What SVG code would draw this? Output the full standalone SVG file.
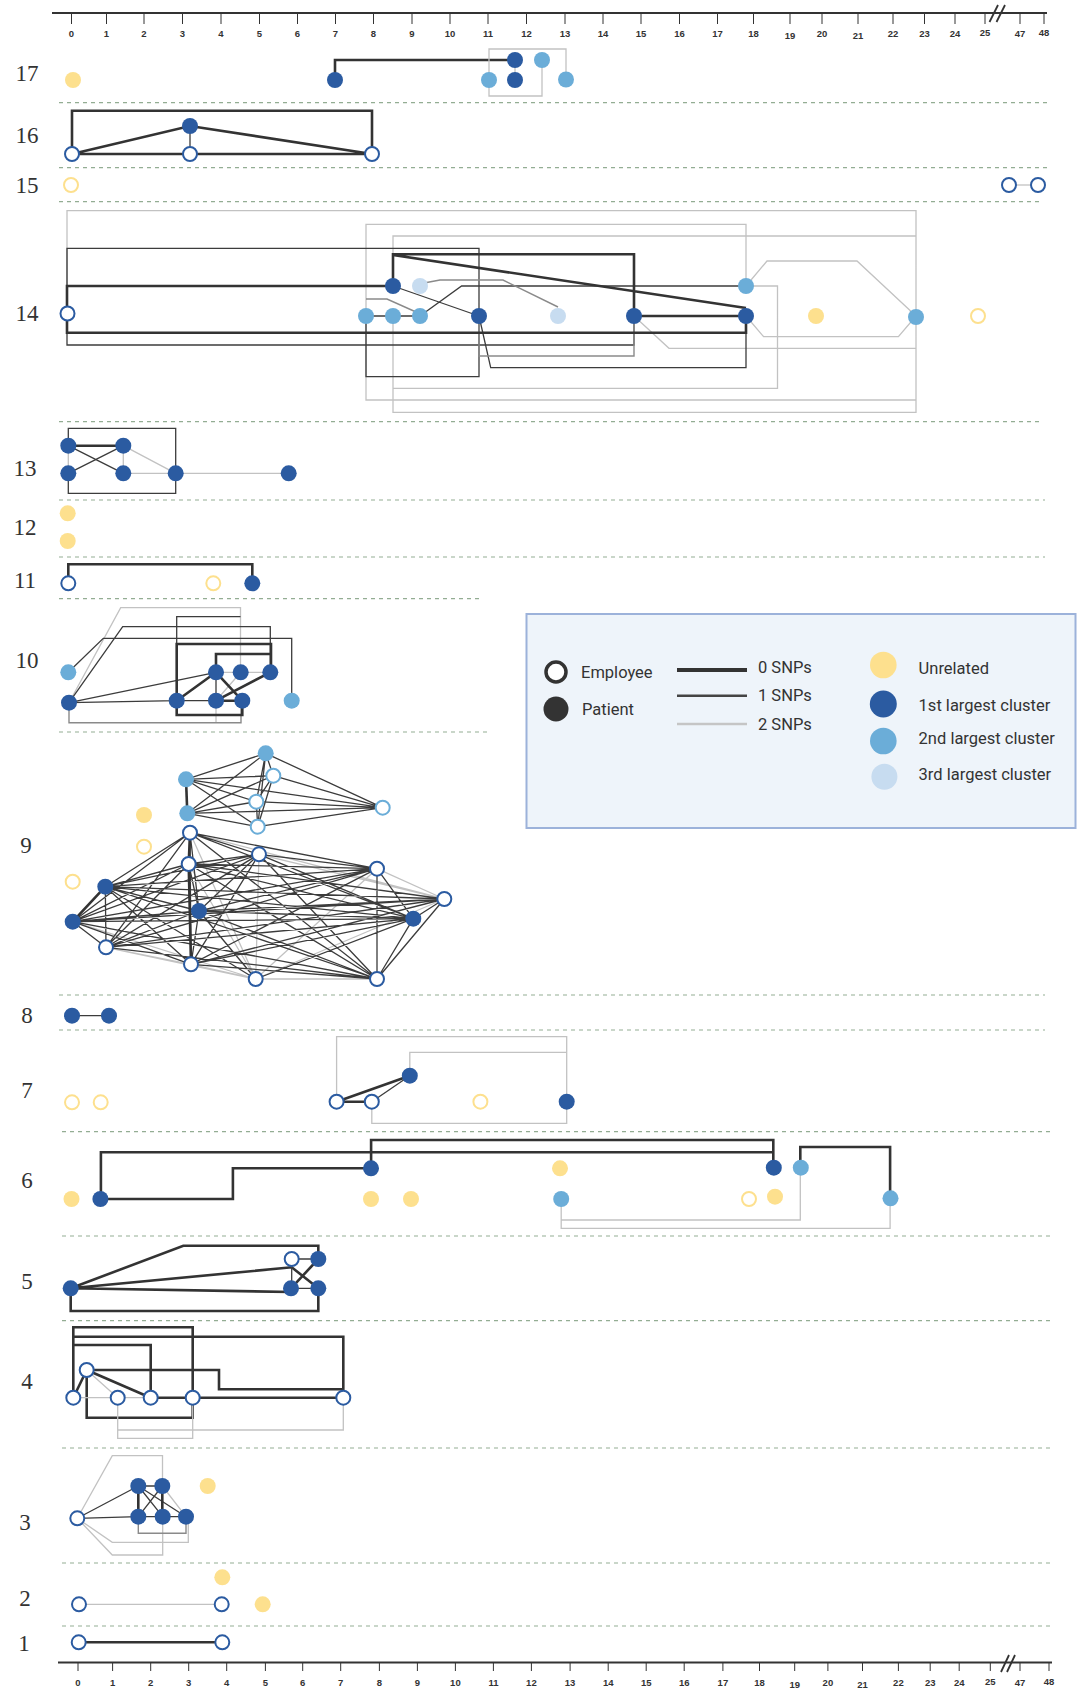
<svg xmlns="http://www.w3.org/2000/svg" width="1085" height="1689" viewBox="0 0 1085 1689">
<style>
.c1{fill:#2b5ba1}
.c2{fill:#6badd8}
.c3{fill:#c7dcf0}
.cu{fill:#fde08e}
.ee{fill:#fff;stroke:#2b5ba1;stroke-width:2}
.el{fill:#fff;stroke:#6badd8;stroke-width:2}
.eu{fill:#fff;stroke:#fde08e;stroke-width:2}
.e0{fill:none;stroke:#333;stroke-width:2.6}
.e1{fill:none;stroke:#3c3c3c;stroke-width:1.3}
.em{fill:none;stroke:#8a8a8a;stroke-width:1.4}
.e2{fill:none;stroke:#c2c2c2;stroke-width:1.3}
.sep{stroke:#93ad93;stroke-width:1.2;stroke-dasharray:4 4}
.ax{stroke:#333;stroke-width:1.8;fill:none}
.tk{stroke:#333;stroke-width:1}
.tl{font-family:"Liberation Sans",Arial,sans-serif;font-size:9.5px;font-weight:bold;fill:#333;text-anchor:middle}
.rl{font-family:"Liberation Serif","Times New Roman",serif;font-size:23px;fill:#333;text-anchor:middle}
.lg{font-family:Roboto,"Liberation Sans",sans-serif;font-size:16.5px;fill:#333}
</style>

<g id="axis-top">
<path class="ax" d="M52,13 H1047"/>
<path class="tk" d="M71.5,13V24 M106.5,13V24 M144,13V24 M182.5,13V24 M221,13V24 M259.5,13V24 M297.5,13V24 M335.5,13V24 M373.5,13V24 M412,13V24 M450,13V24 M488,13V24 M526.5,13V24 M565,13V24 M603,13V24 M641,13V24 M679.5,13V24 M717.5,13V24 M753.5,13V24 M790,13V24 M822,13V24 M858,13V24 M893,13V24 M924.5,13V24 M955,13V24 M985,13V24 M1020,13V24 M1044,13V24"/>
<path class="ax" d="M989.5,22 L998,5 M996.5,22 L1005,5" stroke-width="1.5"/>
<g class="tl">
<text x="71.5" y="37">0</text><text x="106.5" y="37">1</text><text x="144" y="37">2</text><text x="182.5" y="37">3</text><text x="221" y="37">4</text><text x="259.5" y="37">5</text><text x="297.5" y="37">6</text><text x="335.5" y="37">7</text><text x="373.5" y="37">8</text><text x="412" y="37">9</text><text x="450" y="37">10</text><text x="488" y="37">11</text><text x="526.5" y="37">12</text><text x="565" y="37">13</text><text x="603" y="37">14</text><text x="641" y="37">15</text><text x="679.5" y="37">16</text><text x="717.5" y="37">17</text><text x="753.5" y="37">18</text><text x="790" y="38.5">19</text><text x="822" y="37">20</text><text x="858" y="38.5">21</text><text x="893" y="37">22</text><text x="924.5" y="37">23</text><text x="955" y="37">24</text><text x="985" y="36">25</text><text x="1020" y="37">47</text><text x="1044" y="36">48</text>
</g>
</g>

<g id="axis-bottom">
<path class="ax" d="M58,1662.5 H1052"/>
<path class="tk" d="M78,1662.5V1671 M112.6,1662.5V1671 M150.7,1662.5V1671 M188.7,1662.5V1671 M226.7,1662.5V1671 M265.4,1662.5V1671 M302.7,1662.5V1671 M340.7,1662.5V1671 M379.4,1662.5V1671 M417.4,1662.5V1671 M455.4,1662.5V1671 M493.4,1662.5V1671 M531.4,1662.5V1671 M570.1,1662.5V1671 M608.2,1662.5V1671 M646.2,1662.5V1671 M684.2,1662.5V1671 M722.9,1662.5V1671 M759.5,1662.5V1671 M794.7,1662.5V1671 M827.9,1662.5V1671 M862.5,1662.5V1671 M898.4,1662.5V1671 M930.2,1662.5V1671 M959.2,1662.5V1671 M990.3,1662.5V1671 M1020,1662.5V1671 M1049,1662.5V1671"/>
<path class="ax" d="M1001,1672 L1009,1655 M1007,1672 L1015,1655" stroke-width="1.5"/>
<g class="tl">
<text x="78" y="1686">0</text><text x="112.6" y="1686">1</text><text x="150.7" y="1686">2</text><text x="188.7" y="1686">3</text><text x="226.7" y="1686">4</text><text x="265.4" y="1686">5</text><text x="302.7" y="1686">6</text><text x="340.7" y="1686">7</text><text x="379.4" y="1686">8</text><text x="417.4" y="1686">9</text><text x="455.4" y="1686">10</text><text x="493.4" y="1686">11</text><text x="531.4" y="1686">12</text><text x="570.1" y="1686">13</text><text x="608.2" y="1686">14</text><text x="646.2" y="1686">15</text><text x="684.2" y="1686">16</text><text x="722.9" y="1686">17</text><text x="759.5" y="1686">18</text><text x="794.7" y="1687.5">19</text><text x="827.9" y="1686">20</text><text x="862.5" y="1688">21</text><text x="898.4" y="1686">22</text><text x="930.2" y="1686">23</text><text x="959.2" y="1686">24</text><text x="990.3" y="1685">25</text><text x="1020" y="1686">47</text><text x="1049" y="1685">48</text>
</g>
</g>

<g id="separators">
<path class="sep" d="M59,102.7H1050 M59,167.7H1050 M59,201.7H1043 M59,421.7H1043 M59,500H1045 M59,557H1045 M59,598.7H483 M59,732H487 M59,995H1045 M59,1030H1045 M62,1131.7H1050 M62,1236H1050 M62,1320.7H1050 M62,1448H1050 M62,1563H1050 M62,1626H1050"/>
</g>

<g id="row-labels" class="rl">
<text x="27" y="81">17</text><text x="27" y="143">16</text><text x="27" y="193">15</text><text x="27" y="321">14</text><text x="25" y="476">13</text><text x="25" y="535">12</text><text x="25" y="588">11</text><text x="27" y="668">10</text><text x="26" y="853">9</text><text x="27" y="1023">8</text><text x="27" y="1098">7</text><text x="27" y="1188">6</text><text x="27" y="1289">5</text><text x="27" y="1389">4</text><text x="25" y="1530">3</text><text x="25" y="1606">2</text><text x="24" y="1651">1</text>
</g>

<g id="connectors">
<!-- row 17 -->
<path class="e0" d="M335,80 V60 H515"/>
<path class="e2" d="M489,80 V49 H566 V79 M489,80 V96 H542 V60 M515,60 V80"/>
<!-- row 16 -->
<path class="e0" d="M72,154 V110.7 H372 V154 M72,154 L190,126 L372,154 M72,154 H372"/>
<path class="e1" d="M190,126 V154"/>
<!-- row 15 -->
<path class="e2" d="M1009,185 H1038"/>
<!-- row 14 -->
<path class="e2" d="M67,313 V210.7 H916 V316 M366,316 V224.3 H746 V286 M366,316 V400 H916 V316 M393,316 V412.3 H916 V236 H393 V286 M746,286 H777.5 V388.3 H393 V316 M634,316 L669,348.3 H916 V316 M746,286 L767,261 H857 L916,316 M746,316 L763.6,336.7 H898.4 L916,316"/>
<path class="e1" d="M67,313 V248.3 H479 V316 M420,316 L461.6,286 H746 M393,286 L479,316 M479,316 L490.7,367.7 H746 V316 M366,316 V376.7 H479 V316 M366,316 H420"/>
<path class="e1" stroke-width="2" d="M67,313 V345 H634 V316"/>
<path class="em" d="M424,283 L440,280 H503 L558,307 M366,299 H387 L416,312 M479,316 V356 H634 V316"/>
<path class="e0" d="M393,286 V254.3 H634 V316 M393,255 L746,308 M67,313 V286 H393 M67,313 V332.7 H746 V316 M634,316 H746"/>
<!-- row 13 -->
<path class="e0" d="M68.3,445.7 H123.3"/>
<path class="e1" d="M68.3,445.7 L123.3,473.3 M68.3,473.3 L123.3,445.7 M68.3,445.7 V428.3 H175.7 V473.3 M68.3,473.3 V493.3 H175.7 V473.3"/>
<path class="e2" d="M123.3,445.7 V473.3 M68.3,445.7 V473.3 M123.3,445.7 L175.7,473.3 M123.3,473.3 H288.7"/>
<!-- row 11 -->
<path class="e0" d="M68.3,583.3 V564.3 H252.3 V583.3"/>
<!-- row 10 -->
<path class="e2" d="M69,702.7 L120.7,607.7 H240.5 V672.3 M216,672.3 H270.3 M216,700.7 L240.7,672.3 M216,700.7 V722.7"/>
<path class="e1" d="M69,702.7 L122.7,626.7 H270.3 V672.3 M68.3,672.3 L103.3,638.3 H291.7 V700.7 M176.7,700.7 V616.7 H240.5 M176.7,700.7 H216 M69,702.7 L216,672.3 M69,702.7 L176.7,700.7 M216,672.3 V700.7"/>
<path class="em" d="M69,702.7 V722.7 H241 V700.7"/>
<path class="e0" d="M176.7,700.7 V644 H271 V672.3 M216,672.3 V654 H271 M176.7,700.7 L216,672.3 M216,672.3 L242.3,700.7 M216,700.7 L270.3,672.3 M216,700.7 H242.3 M176.7,700.7 V715 H242.3 V700.7"/>
<!-- row 9 upper cluster -->
<path class="e1" stroke-width="1.5" d="M265.7,753.3L186,779.3 M265.7,753.3L187.3,813.3 M265.7,753.3L273.3,775.7 M265.7,753.3L256.3,801.7 M265.7,753.3L257.7,826.7 M265.7,753.3L382.7,807.7 M186,779.3L273.3,775.7 M186,779.3L256.3,801.7 M186,779.3L257.7,826.7 M186,779.3L382.7,807.7 M187.3,813.3L273.3,775.7 M187.3,813.3L256.3,801.7 M187.3,813.3L257.7,826.7 M187.3,813.3L382.7,807.7 M273.3,775.7L256.3,801.7 M273.3,775.7L257.7,826.7 M273.3,775.7L382.7,807.7 M256.3,801.7L257.7,826.7 M256.3,801.7L382.7,807.7 M257.7,826.7L382.7,807.7"/>
<path class="e0" stroke-width="2" d="M186,779.3L187.3,813.3"/>
<!-- row 9 lower cluster -->
<path class="e2" d="M190,832.7L444.3,899 M190,832.7L255.7,979 M188.7,864L255.7,979 M259,854.3L444.3,899 M259,854.3L255.7,979 M377,868.7L444.3,899 M377,868.7L255.7,979 M444.3,899L255.7,979 M72.7,921.7L255.7,979 M106,947.3L191,964.3 M106,947.3L255.7,979 M191,964.3L255.7,979 M255.7,979L377,979"/>
<path class="e1" stroke-width="1.5" stroke="#2e2e2e" d="M190,832.7L259,854.3 M190,832.7L377,868.7 M190,832.7L105.3,886.7 M190,832.7L72.7,921.7 M190,832.7L199,911 M190,832.7L413.3,918.7 M190,832.7L106,947.3 M190,832.7L191,964.3 M190,832.7L377,979 M188.7,864L259,854.3 M188.7,864L377,868.7 M188.7,864L444.3,899 M188.7,864L105.3,886.7 M188.7,864L72.7,921.7 M188.7,864L199,911 M188.7,864L413.3,918.7 M188.7,864L106,947.3 M188.7,864L377,979 M259,854.3L377,868.7 M259,854.3L105.3,886.7 M259,854.3L72.7,921.7 M259,854.3L199,911 M259,854.3L413.3,918.7 M259,854.3L106,947.3 M259,854.3L191,964.3 M259,854.3L377,979 M377,868.7L105.3,886.7 M377,868.7L72.7,921.7 M377,868.7L199,911 M377,868.7L413.3,918.7 M377,868.7L106,947.3 M377,868.7L191,964.3 M377,868.7L377,979 M444.3,899L105.3,886.7 M444.3,899L72.7,921.7 M444.3,899L199,911 M444.3,899L413.3,918.7 M444.3,899L106,947.3 M444.3,899L191,964.3 M444.3,899L377,979 M105.3,886.7L199,911 M105.3,886.7L413.3,918.7 M105.3,886.7L106,947.3 M105.3,886.7L191,964.3 M105.3,886.7L255.7,979 M105.3,886.7L377,979 M72.7,921.7L199,911 M72.7,921.7L413.3,918.7 M72.7,921.7L106,947.3 M72.7,921.7L191,964.3 M72.7,921.7L377,979 M199,911L413.3,918.7 M199,911L106,947.3 M199,911L191,964.3 M199,911L255.7,979 M199,911L377,979 M413.3,918.7L106,947.3 M413.3,918.7L191,964.3 M413.3,918.7L255.7,979 M413.3,918.7L377,979 M106,947.3L377,979 M191,964.3L377,979"/>
<path class="e0" stroke-width="2" d="M190,832.7L188.7,864 M188.7,864L191,964.3 M105.3,886.7L72.7,921.7"/>
<!-- row 8 -->
<path class="e1" stroke-width="1.6" d="M72,1015.7 H109"/>
<!-- row 7 -->
<path class="e0" d="M336.6,1101.7 L409.8,1075.7 M336.6,1101.7 H371.8"/>
<path class="e1" d="M371.8,1101.7 L409.8,1075.7"/>
<path class="e2" d="M336.6,1101.7 V1036.7 H566.7 V1101.7 M409.8,1075.7 V1052.3 H566.7 M371.8,1101.7 V1123.3 H566.7 V1101.7"/>
<!-- row 6 -->
<path class="e0" d="M100.9,1199 V1152.3 H773.3 V1167.7 M371.1,1168.3 V1140 H773.3 V1152.3 M100.9,1199 H232.9 V1168.3 H371.1 M800.3,1167.7 V1147 H890.1 V1198.3"/>
<path class="e2" d="M561.2,1199 V1220 H800.3 V1167.7 M561.2,1199 V1228.3 H890.1 V1198.3"/>
<!-- row 5 -->
<path class="e0" d="M70.7,1288.3 L183.3,1245.7 H318.3 V1259 M70.7,1288.3 L291.7,1267.3 L318.3,1288.3 M70.7,1288.3 L291,1292 M70.7,1288.3 V1311 H318.3 V1288.3 M291,1288.3 L318.3,1259"/>
<path class="e1" d="M291.7,1259 V1288.3 M291.7,1259 H318.3 M291,1288.3 H318.3"/>
<!-- row 4 -->
<path class="e0" d="M73.3,1397.7 V1327.3 H192.7 V1397.7 M73.3,1397.7 V1336.7 H343.3 V1397.7 M73.3,1397.7 V1345 H150.7 V1397.7 M73.3,1397.7 L86.7,1370 M86.7,1370 H219 V1389.3 H343.3 M86.7,1370 L150.7,1397.7 M150.7,1397.7 H343.3 M86.7,1370 V1417.7 H192.7 V1397.7"/>
<path class="e2" d="M73.3,1397.7 H150.7 M86.7,1370 L117.7,1397.7 M117.7,1397.7 V1430 H343.3 V1397.7 M117.7,1397.7 V1438.3 H192.7 V1397.7"/>
<!-- row 3 -->
<path class="e2" d="M77.3,1518.3 L112.3,1455.7 H162.5 V1486 M77.3,1518.3 L112.3,1542.3 H188.3 V1516.7 M77.3,1518.3 L112.3,1555 H162.7 V1516.7 M162.3,1486 L186,1516.7"/>
<path class="e1" d="M77.3,1518.3 L138.3,1486 M77.3,1518.3 L138.3,1516.7 M138.3,1486 H162.3 M138.3,1516.7 H186 M138.3,1486 L162.7,1516.7 M162.3,1486 L138.3,1516.7 M138.3,1486 L186,1516.7"/>
<path class="em" d="M138.3,1516.7 V1533.3 H186 V1516.7"/>
<path class="e0" d="M138.3,1486 V1516.7 M162.3,1486 V1516.7"/>
<!-- row 2 -->
<path class="e2" d="M79,1604.3 H221.7"/>
<!-- row 1 -->
<path class="e0" d="M78.7,1642.3 H222.3"/>
</g>

<g id="nodes">
<!-- row 17 -->
<g id="r17-1"><circle class="cu" cx="73" cy="80" r="8"/></g>
<g id="r17-2"><circle class="c1" cx="335" cy="80" r="8"/></g>
<g id="r17-3"><circle class="c2" cx="489" cy="80" r="8"/></g>
<g id="r17-4"><circle class="c1" cx="515" cy="80" r="8"/></g>
<g id="r17-5"><circle class="c1" cx="515" cy="60" r="8"/></g>
<g id="r17-6"><circle class="c2" cx="542" cy="60" r="8"/></g>
<g id="r17-7"><circle class="c2" cx="566" cy="79.5" r="8"/></g>
<!-- row 16 -->
<g id="r16-1"><circle class="ee" cx="72" cy="154" r="7"/></g>
<g id="r16-2"><circle class="ee" cx="190" cy="154" r="7"/></g>
<g id="r16-3"><circle class="ee" cx="372" cy="154" r="7"/></g>
<g id="r16-4"><circle class="c1" cx="190" cy="126" r="8"/></g>
<!-- row 15 -->
<g id="r15-1"><circle class="eu" cx="71" cy="185" r="7"/></g>
<g id="r15-2"><circle class="ee" cx="1009" cy="185" r="7"/></g>
<g id="r15-3"><circle class="ee" cx="1038" cy="185" r="7"/></g>
<!-- row 14 -->
<g id="r14-1"><circle class="ee" cx="67.5" cy="313.5" r="7"/></g>
<g id="r14-2"><circle class="c2" cx="366" cy="316" r="8"/></g>
<g id="r14-3"><circle class="c2" cx="393" cy="316" r="8"/></g>
<g id="r14-4"><circle class="c2" cx="420" cy="316" r="8"/></g>
<g id="r14-5"><circle class="c1" cx="479" cy="316" r="8"/></g>
<g id="r14-6"><circle class="c3" cx="558" cy="316" r="8"/></g>
<g id="r14-7"><circle class="c1" cx="634" cy="316" r="8"/></g>
<g id="r14-8"><circle class="c1" cx="746" cy="316" r="8"/></g>
<g id="r14-9"><circle class="cu" cx="816" cy="316" r="8"/></g>
<g id="r14-10"><circle class="c2" cx="916" cy="317" r="8"/></g>
<g id="r14-11"><circle class="eu" cx="978" cy="316" r="7"/></g>
<g id="r14-12"><circle class="c1" cx="393" cy="286" r="8"/></g>
<g id="r14-13"><circle class="c3" cx="420" cy="286" r="8"/></g>
<g id="r14-14"><circle class="c2" cx="746" cy="286" r="8"/></g>
<!-- row 13 -->
<g id="r13-1"><circle class="c1" cx="68.3" cy="445.7" r="8"/></g>
<g id="r13-2"><circle class="c1" cx="123.3" cy="445.7" r="8"/></g>
<g id="r13-3"><circle class="c1" cx="68.3" cy="473.3" r="8"/></g>
<g id="r13-4"><circle class="c1" cx="123.3" cy="473.3" r="8"/></g>
<g id="r13-5"><circle class="c1" cx="175.7" cy="473.3" r="8"/></g>
<g id="r13-6"><circle class="c1" cx="288.7" cy="473.3" r="8"/></g>
<!-- row 12 -->
<g id="r12-1"><circle class="cu" cx="67.7" cy="513.3" r="8"/></g>
<g id="r12-2"><circle class="cu" cx="67.7" cy="541" r="8"/></g>
<!-- row 11 -->
<g id="r11-1"><circle class="ee" cx="68.3" cy="583.3" r="7"/></g>
<g id="r11-2"><circle class="eu" cx="213.3" cy="583.3" r="7"/></g>
<g id="r11-3"><circle class="c1" cx="252.3" cy="583.3" r="8"/></g>
<!-- row 10 -->
<g id="r10-1"><circle class="c2" cx="68.3" cy="672.3" r="8"/></g>
<g id="r10-2"><circle class="c1" cx="69" cy="702.7" r="8"/></g>
<g id="r10-3"><circle class="c1" cx="176.7" cy="700.7" r="8"/></g>
<g id="r10-4"><circle class="c1" cx="216" cy="700.7" r="8"/></g>
<g id="r10-5"><circle class="c1" cx="242.3" cy="700.7" r="8"/></g>
<g id="r10-6"><circle class="c1" cx="216" cy="672.3" r="8"/></g>
<g id="r10-7"><circle class="c1" cx="240.7" cy="672.3" r="8"/></g>
<g id="r10-8"><circle class="c1" cx="270.3" cy="672.3" r="8"/></g>
<g id="r10-9"><circle class="c2" cx="291.7" cy="700.7" r="8"/></g>
<!-- row 9 -->
<g id="r9-p"><circle class="c2" cx="265.7" cy="753.3" r="8"/></g>
<g id="r9-q"><circle class="c2" cx="186" cy="779.3" r="8"/></g>
<g id="r9-r"><circle class="c2" cx="187.3" cy="813.3" r="8"/></g>
<g id="r9-s"><circle class="el" cx="273.3" cy="775.7" r="7"/></g>
<g id="r9-t"><circle class="el" cx="256.3" cy="801.7" r="7"/></g>
<g id="r9-u"><circle class="el" cx="257.7" cy="826.7" r="7"/></g>
<g id="r9-v"><circle class="el" cx="382.7" cy="807.7" r="7"/></g>
<g id="r9-y1"><circle class="cu" cx="144" cy="815" r="8"/></g>
<g id="r9-y2"><circle class="eu" cx="144" cy="846.7" r="7"/></g>
<g id="r9-y3"><circle class="eu" cx="72.7" cy="881.7" r="7"/></g>
<g id="r9-a"><circle class="ee" cx="190" cy="832.7" r="7"/></g>
<g id="r9-b"><circle class="ee" cx="188.7" cy="864" r="7"/></g>
<g id="r9-c"><circle class="ee" cx="259" cy="854.3" r="7"/></g>
<g id="r9-d"><circle class="ee" cx="377" cy="868.7" r="7"/></g>
<g id="r9-e"><circle class="ee" cx="444.3" cy="899" r="7"/></g>
<g id="r9-f"><circle class="c1" cx="105.3" cy="886.7" r="8"/></g>
<g id="r9-g"><circle class="c1" cx="72.7" cy="921.7" r="8"/></g>
<g id="r9-h"><circle class="c1" cx="199" cy="911" r="8"/></g>
<g id="r9-i"><circle class="c1" cx="413.3" cy="918.7" r="8"/></g>
<g id="r9-j"><circle class="ee" cx="106" cy="947.3" r="7"/></g>
<g id="r9-k"><circle class="ee" cx="191" cy="964.3" r="7"/></g>
<g id="r9-l"><circle class="ee" cx="255.7" cy="979" r="7"/></g>
<g id="r9-m"><circle class="ee" cx="377" cy="979" r="7"/></g>
<!-- row 8 -->
<g id="r8-1"><circle class="c1" cx="72" cy="1015.7" r="8"/></g>
<g id="r8-2"><circle class="c1" cx="109" cy="1015.7" r="8"/></g>
<!-- row 7 -->
<g id="r7-1"><circle class="eu" cx="72" cy="1102.3" r="7"/></g>
<g id="r7-2"><circle class="eu" cx="100.7" cy="1102.3" r="7"/></g>
<g id="r7-3"><circle class="ee" cx="336.6" cy="1101.7" r="7"/></g>
<g id="r7-4"><circle class="ee" cx="371.8" cy="1101.7" r="7"/></g>
<g id="r7-5"><circle class="c1" cx="409.8" cy="1075.7" r="8"/></g>
<g id="r7-6"><circle class="eu" cx="480.4" cy="1101.7" r="7"/></g>
<g id="r7-7"><circle class="c1" cx="566.7" cy="1101.7" r="8"/></g>
<!-- row 6 -->
<g id="r6-1"><circle class="cu" cx="71.5" cy="1199" r="8"/></g>
<g id="r6-2"><circle class="c1" cx="100.4" cy="1199" r="8"/></g>
<g id="r6-3"><circle class="c1" cx="371" cy="1168.3" r="8"/></g>
<g id="r6-4"><circle class="cu" cx="371" cy="1199" r="8"/></g>
<g id="r6-5"><circle class="cu" cx="411" cy="1199" r="8"/></g>
<g id="r6-6"><circle class="cu" cx="560" cy="1168.3" r="8"/></g>
<g id="r6-7"><circle class="c2" cx="561.2" cy="1199" r="8"/></g>
<g id="r6-8"><circle class="eu" cx="749" cy="1199" r="7"/></g>
<g id="r6-9"><circle class="cu" cx="775" cy="1196.7" r="8"/></g>
<g id="r6-10"><circle class="c1" cx="773.8" cy="1167.7" r="8"/></g>
<g id="r6-11"><circle class="c2" cx="800.8" cy="1167.7" r="8"/></g>
<g id="r6-12"><circle class="c2" cx="890.5" cy="1198.3" r="8"/></g>
<!-- row 5 -->
<g id="r5-1"><circle class="c1" cx="70.7" cy="1288.3" r="8"/></g>
<g id="r5-2"><circle class="ee" cx="291.7" cy="1259" r="7"/></g>
<g id="r5-3"><circle class="c1" cx="318.3" cy="1259" r="8"/></g>
<g id="r5-4"><circle class="c1" cx="291" cy="1288.3" r="8"/></g>
<g id="r5-5"><circle class="c1" cx="318.3" cy="1288.3" r="8"/></g>
<!-- row 4 -->
<g id="r4-1"><circle class="ee" cx="73.3" cy="1397.7" r="7"/></g>
<g id="r4-2"><circle class="ee" cx="86.7" cy="1370" r="7"/></g>
<g id="r4-3"><circle class="ee" cx="117.7" cy="1397.7" r="7"/></g>
<g id="r4-4"><circle class="ee" cx="150.7" cy="1397.7" r="7"/></g>
<g id="r4-5"><circle class="ee" cx="192.7" cy="1397.7" r="7"/></g>
<g id="r4-6"><circle class="ee" cx="343.3" cy="1397.7" r="7"/></g>
<!-- row 3 -->
<g id="r3-1"><circle class="ee" cx="77.3" cy="1518.3" r="7"/></g>
<g id="r3-2"><circle class="c1" cx="138.3" cy="1486" r="8"/></g>
<g id="r3-3"><circle class="c1" cx="162.3" cy="1486" r="8"/></g>
<g id="r3-4"><circle class="c1" cx="138.3" cy="1516.7" r="8"/></g>
<g id="r3-5"><circle class="c1" cx="162.7" cy="1516.7" r="8"/></g>
<g id="r3-6"><circle class="c1" cx="186" cy="1516.7" r="8"/></g>
<g id="r3-7"><circle class="cu" cx="207.7" cy="1486" r="8"/></g>
<!-- row 2 -->
<g id="r2-1"><circle class="cu" cx="222.3" cy="1577.3" r="8"/></g>
<g id="r2-2"><circle class="ee" cx="79" cy="1604.3" r="7"/></g>
<g id="r2-3"><circle class="ee" cx="221.7" cy="1604.3" r="7"/></g>
<g id="r2-4"><circle class="cu" cx="262.7" cy="1604.3" r="8"/></g>
<!-- row 1 -->
<g id="r1-1"><circle class="ee" cx="78.7" cy="1642.3" r="7"/></g>
<g id="r1-2"><circle class="ee" cx="222.3" cy="1642.3" r="7"/></g>
</g>

<g id="legend">
<rect x="526.5" y="614" width="549" height="214" fill="#eef4fa" stroke="#9cb2da" stroke-width="2"/>
<circle cx="556" cy="672" r="10" fill="#fff" stroke="#333" stroke-width="3.5"/>
<text class="lg" x="581" y="678">Employee</text>
<circle cx="556" cy="709" r="12.5" fill="#333"/>
<text class="lg" x="582" y="715">Patient</text>
<line x1="677" y1="670" x2="747" y2="670" stroke="#333" stroke-width="4"/>
<text class="lg" x="758" y="673">0 SNPs</text>
<line x1="677" y1="695.7" x2="747" y2="695.7" stroke="#444" stroke-width="2.4"/>
<text class="lg" x="758" y="701">1 SNPs</text>
<line x1="677" y1="724" x2="747" y2="724" stroke="#c5c5c5" stroke-width="2.4"/>
<text class="lg" x="758" y="730">2 SNPs</text>
<circle cx="883.3" cy="665" r="13.3" class="cu"/>
<text class="lg" x="918.6" y="674">Unrelated</text>
<circle cx="883.3" cy="704" r="13.5" class="c1"/>
<text class="lg" x="918.6" y="711">1st largest cluster</text>
<circle cx="883.3" cy="741" r="13.3" class="c2"/>
<text class="lg" x="918.6" y="744">2nd largest cluster</text>
<circle cx="884.4" cy="776.7" r="13" class="c3"/>
<text class="lg" x="918.6" y="780">3rd largest cluster</text>
</g>
</svg>
